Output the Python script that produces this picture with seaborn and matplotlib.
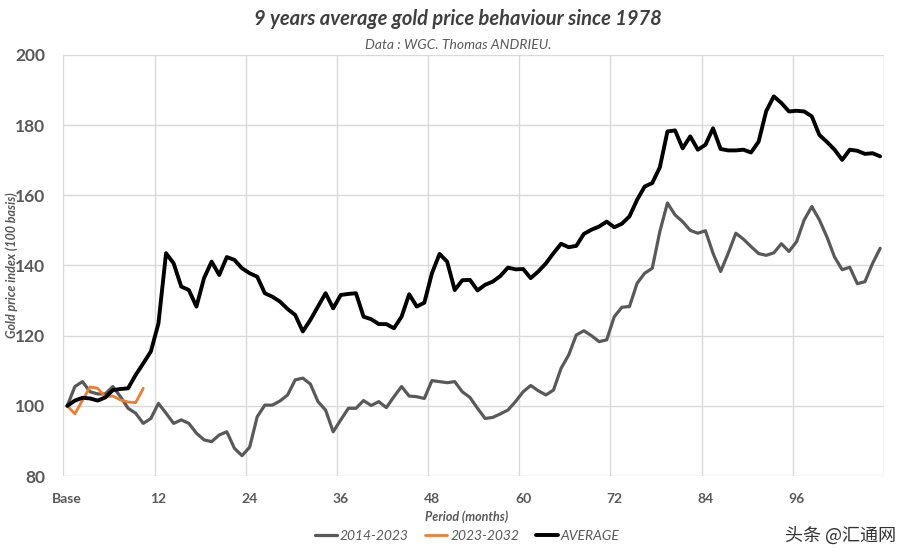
import numpy as np
import pandas as pd
import matplotlib
matplotlib.use("Agg")
import matplotlib.pyplot as plt
import seaborn as sns
from matplotlib.ticker import FixedLocator

months_labels = ["Base", "12", "24", "36", "48", "60", "72", "84", "96"]
label_positions = [0, 12, 24, 36, 48, 60, 72, 84, 96]

series_2014_2023 = [
    100, 105.5, 106.9, 104, 103.4, 103.4, 105.5, 102.6, 99.3, 97.9,
    95, 96.4, 100.7, 97.9, 95, 96, 95, 92.2, 90.3, 89.8,
    91.7, 92.6, 87.9, 85.8, 88.2, 96.9, 100.2, 100.2, 101.4, 103.1,
    107.4, 107.9, 106.2, 101.2, 98.8, 92.6, 96, 99.3, 99.3, 101.5,
    100.1, 101.2, 99.5, 102.6, 105.5, 102.8, 102.6, 102.1, 107.2, 106.9,
    106.6, 106.9, 104, 102.4, 99.3, 96.4, 96.7, 97.7, 98.8, 101.2,
    104, 105.8, 104.3, 103.1, 104.5, 110.7, 114.5, 120.2, 121.4, 120,
    118.3, 118.8, 125.4, 128.1, 128.3, 134.9, 137.8, 139.2, 149.7, 157.8,
    154.4, 152.5, 150, 149.2, 149.9, 143.5, 138.3, 143.5, 149.2, 147.5,
    145.4, 143.4, 142.9, 143.6, 146.2, 144, 146.8, 153, 156.8, 153,
    148.1, 142.4, 138.8, 139.5, 134.8, 135.4, 140.6, 144.9,
]

series_2023_2032 = [100, 97.7, 101.6, 105.4, 105, 102.6, 102.8, 101.7, 101.1, 100.9, 105]

series_average = [
    100, 101.5, 102.3, 102.1, 101.5, 102.4, 104.5, 104.8, 105, 108.8,
    112.1, 115.5, 123.5, 143.5, 140.6, 134, 133, 128.3, 136.4, 141.1,
    137.3, 142.4, 141.6, 139.2, 137.8, 136.8, 132.1, 131.1, 129.7, 127.6,
    125.9, 121.2, 124.5, 128.3, 132.1, 127.8, 131.6, 131.9, 132.1, 125.4,
    124.7, 123.3, 123.3, 122.1, 125.4, 131.8, 128.3, 129.4, 137.8, 143.3,
    141.1, 133, 135.8, 135.9, 132.9, 134.5, 135.4, 137, 139.4, 138.9,
    139, 136.4, 138.3, 140.6, 143.5, 146.2, 145.2, 145.6, 149, 150.2,
    151.1, 152.5, 150.9, 151.9, 154, 158.7, 162.5, 163.5, 168, 178.2,
    178.5, 173.4, 176.8, 173, 174.4, 179.1, 173.2, 172.8, 172.8, 173,
    172.2, 175.3, 184, 188.2, 186.3, 183.9, 184.1, 183.9, 182.5, 177.2,
    175.2, 173, 170.1, 173, 172.7, 171.8, 172, 171.1,
]

sns.set_theme(style="white")
plt.rcParams["font.family"] = ["Lato", "DejaVu Sans"]

fig = plt.figure(figsize=(9.07, 5.57), dpi=100)
ax = fig.add_axes([0.070, 0.1454, 0.9046, 0.7559])

df_a = pd.DataFrame({"month": np.arange(len(series_2014_2023)), "value": series_2014_2023})
df_b = pd.DataFrame({"month": np.arange(len(series_2023_2032)), "value": series_2023_2032})
df_c = pd.DataFrame({"month": np.arange(len(series_average)), "value": series_average})

common = dict(solid_joinstyle="round", solid_capstyle="round")
sns.lineplot(data=df_a, x="month", y="value", ax=ax, color="#595959", linewidth=2.3,
             label="2014-2023", zorder=3, **common)
sns.lineplot(data=df_b, x="month", y="value", ax=ax, color="#ED7D31", linewidth=2.0,
             label="2023-2032", zorder=4, **common)
sns.lineplot(data=df_c, x="month", y="value", ax=ax, color="#000000", linewidth=2.8,
             label="AVERAGE", zorder=5, **common)

n = len(series_average)
ax.set_xlim(-0.5, n - 0.5)
ax.set_ylim(80, 200)
ax.set_yticks(np.arange(80, 201, 20))
ax.set_xticks(label_positions)
ax.set_xticklabels(months_labels)
ax.xaxis.set_minor_locator(FixedLocator(np.arange(-0.5, n, 12)))
ax.grid(False)
ax.grid(True, which="minor", axis="x", color="#d9d9d9", linewidth=1)
ax.grid(True, which="major", axis="y", color="#d9d9d9", linewidth=1)
ax.tick_params(axis="both", which="both", length=0)
ax.tick_params(axis="y", pad=13, labelsize=12.5, labelcolor="#595959")
ax.tick_params(axis="x", pad=12, labelsize=10, labelcolor="#595959")
for lab in ax.get_yticklabels() + ax.get_xticklabels():
    lab.set_fontweight("bold")
for s in ax.spines.values():
    s.set_visible(False)

ax.set_xlabel("")
ax.set_ylabel("")
fig.text(0.013, 0.524, "Gold price index (100 basis)", ha="center", va="center", rotation=90,
         fontsize=9, fontweight="bold", fontstyle="italic", color="#595959")

fig.text(0.505, 0.965, "9 years average gold price behaviour since 1978", ha="center", va="center",
         fontsize=14.5, fontweight="bold", fontstyle="italic", color="#404040")
fig.text(0.505, 0.919, "Data : WGC. Thomas ANDRIEU.", ha="center", va="center",
         fontsize=10, fontstyle="italic", color="#595959")
fig.text(0.515, 0.072, "Period (months)", ha="center", va="center",
         fontsize=9, fontweight="bold", fontstyle="italic", color="#595959")

handles, labels = ax.get_legend_handles_labels()
if ax.legend_:
    ax.legend_.remove()
leg = fig.legend(handles, labels, loc="center", bbox_to_anchor=(0.515, 0.038), ncol=3,
                 frameon=False, handlelength=1.6, columnspacing=1.2, handletextpad=0.2,
                 prop={"size": 10, "style": "italic"})
for t in leg.get_texts():
    t.set_color("#595959")

fig.text(0.988, 0.038, "头条 @汇通网", ha="right", va="center", fontsize=13,
         color="#333333", family=["Noto Sans CJK SC", "DejaVu Sans"])

fig.savefig("out.png", dpi=100)
